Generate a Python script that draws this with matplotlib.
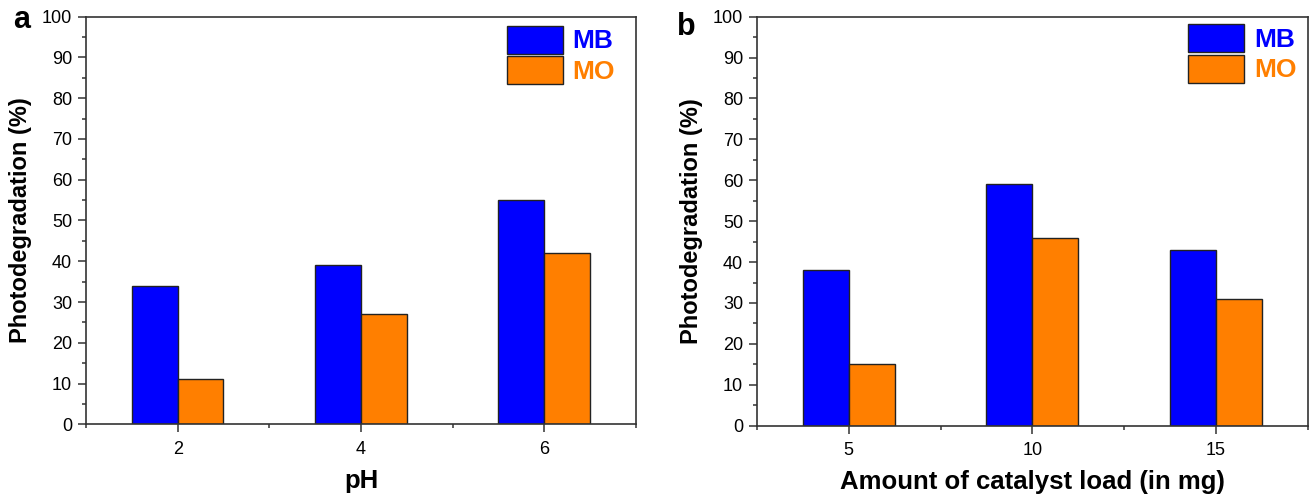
import matplotlib
matplotlib.use("Agg")
import matplotlib.pyplot as plt
import numpy as np

plt.rcParams['font.family'] = ['Liberation Sans', 'DejaVu Sans']

# Data
ph_values = [2, 4, 6]
ph_mb = [34, 39, 55]
ph_mo = [11, 27, 42]

load_values = [5, 10, 15]
load_mb = [38, 59, 43]
load_mo = [15, 46, 31]

series_names = ["MB", "MO"]
colors = ["#0000FF", "#FF7F00"]

fig = plt.figure(figsize=(13.11, 4.97), dpi=100)
ax_a = fig.add_axes([0.0656, 0.1463, 0.4195, 0.8201])
ax_b = fig.add_axes([0.5774, 0.1435, 0.4201, 0.8229])

spine_col = "#333333"


def style(ax, xlim, major, minor, xlabel, leg_anchor):
    ax.set_xlim(*xlim)
    ax.set_ylim(0, 100)
    ax.set_xticks(major)
    ax.set_xticks(minor, minor=True)
    ax.set_yticks(np.arange(0, 101, 10))
    ax.set_yticks(np.arange(5, 100, 10), minor=True)
    for s in ax.spines.values():
        s.set_color(spine_col)
        s.set_linewidth(1.2)
    ax.tick_params(axis='both', which='major', direction='out', length=6,
                   width=1.1, color=spine_col, labelsize=13, pad=4)
    ax.tick_params(axis='both', which='minor', direction='out', length=3,
                   width=1.1, color=spine_col)
    ax.tick_params(axis='x', which='major', pad=6)
    ax.set_ylabel("Photodegradation (%)", fontsize=17, fontweight='bold', labelpad=7)
    ax.set_xlabel(xlabel, fontsize=18.5, fontweight='bold', labelpad=8)
    leg = ax.legend(loc='upper left', bbox_to_anchor=leg_anchor, frameon=False,
                    prop={'weight': 'bold', 'size': 19}, handlelength=2.12,
                    handleheight=1.25, labelspacing=0.1, handletextpad=0.38,
                    borderpad=0, borderaxespad=0)
    for t, c in zip(leg.get_texts(), colors):
        t.set_color(c)


w = 0.5
ax_a.bar(np.array(ph_values) - w / 2, ph_mb, width=w, color=colors[0],
         edgecolor='#222222', linewidth=1.0, label=series_names[0])
ax_a.bar(np.array(ph_values) + w / 2, ph_mo, width=w, color=colors[1],
         edgecolor='#222222', linewidth=1.0, label=series_names[1])
style(ax_a, (1, 7), ph_values, [1, 3, 5, 7], "pH", (0.765, 0.978))

w2 = 1.25
ax_b.bar(np.array(load_values) - w2 / 2, load_mb, width=w2, color=colors[0],
         edgecolor='#222222', linewidth=1.0, label=series_names[0])
ax_b.bar(np.array(load_values) + w2 / 2, load_mo, width=w2, color=colors[1],
         edgecolor='#222222', linewidth=1.0, label=series_names[1])
style(ax_b, (2.5, 17.5), load_values, [2.5, 7.5, 12.5, 17.5],
      "Amount of catalyst load (in mg)", (0.7826, 0.982))

fig.text(13 / 1311, 1 - 28 / 497, "a", fontsize=22, fontweight='bold',
         ha='left', va='baseline')
fig.text(677 / 1311, 1 - 35 / 497, "b", fontsize=22, fontweight='bold',
         ha='left', va='baseline')

fig.savefig("out.png", dpi=100)
